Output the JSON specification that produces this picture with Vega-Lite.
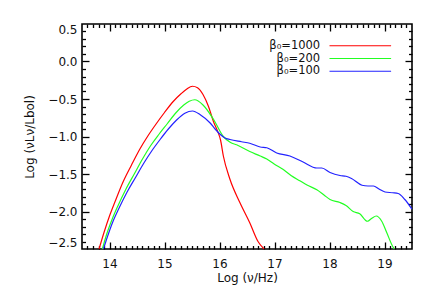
{
  "$schema": "https://vega.github.io/schema/vega-lite/v6.json",
  "autosize": {"type": "none"},
  "padding": {"left": 82, "top": 24, "right": 24, "bottom": 51},
  "width": 330,
  "height": 225,
  "background": "white",
  "config": {
    "view": {"stroke": "#000", "strokeWidth": 1.6},
    "font": "DejaVu Sans",
    "axis": {"labelFont": "DejaVu Sans", "titleFont": "DejaVu Sans", "labelColor": "#111", "titleColor": "#111", "labelFontSize": 12, "titleFontSize": 12, "titleFontWeight": "normal", "grid": false, "domain": false, "tickColor": "#000", "tickWidth": 1.3}
  },
  "datasets": {
    "curves": [
      {"model": "1000", "lognu": 13.81, "lognl": -2.5},
      {"model": "1000", "lognu": 13.9, "lognl": -2.28},
      {"model": "1000", "lognu": 14.0, "lognl": -2.06},
      {"model": "1000", "lognu": 14.1, "lognl": -1.87},
      {"model": "1000", "lognu": 14.25, "lognl": -1.6},
      {"model": "1000", "lognu": 14.4, "lognl": -1.38},
      {"model": "1000", "lognu": 14.55, "lognl": -1.17},
      {"model": "1000", "lognu": 14.7, "lognl": -0.99},
      {"model": "1000", "lognu": 14.85, "lognl": -0.83},
      {"model": "1000", "lognu": 15.0, "lognl": -0.68},
      {"model": "1000", "lognu": 15.15, "lognl": -0.54},
      {"model": "1000", "lognu": 15.3, "lognl": -0.43},
      {"model": "1000", "lognu": 15.4, "lognl": -0.37},
      {"model": "1000", "lognu": 15.51, "lognl": -0.33},
      {"model": "1000", "lognu": 15.6, "lognl": -0.35},
      {"model": "1000", "lognu": 15.7, "lognl": -0.44},
      {"model": "1000", "lognu": 15.8, "lognl": -0.6},
      {"model": "1000", "lognu": 15.89, "lognl": -0.8},
      {"model": "1000", "lognu": 15.96, "lognl": -0.92},
      {"model": "1000", "lognu": 16.02, "lognl": -1.05},
      {"model": "1000", "lognu": 16.07, "lognl": -1.26},
      {"model": "1000", "lognu": 16.19, "lognl": -1.57},
      {"model": "1000", "lognu": 16.37, "lognl": -1.88},
      {"model": "1000", "lognu": 16.55, "lognl": -2.15},
      {"model": "1000", "lognu": 16.7, "lognl": -2.4},
      {"model": "1000", "lognu": 16.81, "lognl": -2.5},
      {"model": "200", "lognu": 13.87, "lognl": -2.5},
      {"model": "200", "lognu": 13.95, "lognl": -2.3},
      {"model": "200", "lognu": 14.05, "lognl": -2.1},
      {"model": "200", "lognu": 14.15, "lognl": -1.93},
      {"model": "200", "lognu": 14.3, "lognl": -1.7},
      {"model": "200", "lognu": 14.45, "lognl": -1.5},
      {"model": "200", "lognu": 14.6, "lognl": -1.3},
      {"model": "200", "lognu": 14.75, "lognl": -1.12},
      {"model": "200", "lognu": 14.9, "lognl": -0.97},
      {"model": "200", "lognu": 15.05, "lognl": -0.83},
      {"model": "200", "lognu": 15.2, "lognl": -0.69},
      {"model": "200", "lognu": 15.35, "lognl": -0.58},
      {"model": "200", "lognu": 15.45, "lognl": -0.53},
      {"model": "200", "lognu": 15.55, "lognl": -0.51},
      {"model": "200", "lognu": 15.7, "lognl": -0.58},
      {"model": "200", "lognu": 15.89, "lognl": -0.77},
      {"model": "200", "lognu": 16.07, "lognl": -1.0},
      {"model": "200", "lognu": 16.2, "lognl": -1.08},
      {"model": "200", "lognu": 16.31, "lognl": -1.11},
      {"model": "200", "lognu": 16.55, "lognl": -1.2},
      {"model": "200", "lognu": 16.74, "lognl": -1.26},
      {"model": "200", "lognu": 16.86, "lognl": -1.3},
      {"model": "200", "lognu": 17.0, "lognl": -1.37},
      {"model": "200", "lognu": 17.16, "lognl": -1.44},
      {"model": "200", "lognu": 17.3, "lognl": -1.52},
      {"model": "200", "lognu": 17.46, "lognl": -1.59},
      {"model": "200", "lognu": 17.6, "lognl": -1.65},
      {"model": "200", "lognu": 17.77, "lognl": -1.71},
      {"model": "200", "lognu": 17.9, "lognl": -1.78},
      {"model": "200", "lognu": 18.01, "lognl": -1.84},
      {"model": "200", "lognu": 18.19, "lognl": -1.88},
      {"model": "200", "lognu": 18.3, "lognl": -1.92},
      {"model": "200", "lognu": 18.43, "lognl": -2.0},
      {"model": "200", "lognu": 18.55, "lognl": -2.03},
      {"model": "200", "lognu": 18.69, "lognl": -2.13},
      {"model": "200", "lognu": 18.77, "lognl": -2.09},
      {"model": "200", "lognu": 18.85, "lognl": -2.06},
      {"model": "200", "lognu": 18.95, "lognl": -2.13},
      {"model": "200", "lognu": 19.04, "lognl": -2.28},
      {"model": "200", "lognu": 19.16, "lognl": -2.48},
      {"model": "200", "lognu": 19.18, "lognl": -2.5},
      {"model": "100", "lognu": 13.89, "lognl": -2.5},
      {"model": "100", "lognu": 13.97, "lognl": -2.32},
      {"model": "100", "lognu": 14.07, "lognl": -2.12},
      {"model": "100", "lognu": 14.17, "lognl": -1.96},
      {"model": "100", "lognu": 14.32, "lognl": -1.74},
      {"model": "100", "lognu": 14.47, "lognl": -1.55},
      {"model": "100", "lognu": 14.62, "lognl": -1.36},
      {"model": "100", "lognu": 14.77, "lognl": -1.19},
      {"model": "100", "lognu": 14.92, "lognl": -1.04},
      {"model": "100", "lognu": 15.07, "lognl": -0.9},
      {"model": "100", "lognu": 15.22, "lognl": -0.78},
      {"model": "100", "lognu": 15.37, "lognl": -0.69},
      {"model": "100", "lognu": 15.51, "lognl": -0.66},
      {"model": "100", "lognu": 15.65, "lognl": -0.71},
      {"model": "100", "lognu": 15.83, "lognl": -0.82},
      {"model": "100", "lognu": 15.92, "lognl": -0.9},
      {"model": "100", "lognu": 16.01, "lognl": -0.97},
      {"model": "100", "lognu": 16.1, "lognl": -1.02},
      {"model": "100", "lognu": 16.19, "lognl": -1.04},
      {"model": "100", "lognu": 16.4, "lognl": -1.07},
      {"model": "100", "lognu": 16.55, "lognl": -1.09},
      {"model": "100", "lognu": 16.74, "lognl": -1.14},
      {"model": "100", "lognu": 16.86, "lognl": -1.15},
      {"model": "100", "lognu": 17.04, "lognl": -1.22},
      {"model": "100", "lognu": 17.28, "lognl": -1.26},
      {"model": "100", "lognu": 17.52, "lognl": -1.34},
      {"model": "100", "lognu": 17.77, "lognl": -1.42},
      {"model": "100", "lognu": 17.86, "lognl": -1.42},
      {"model": "100", "lognu": 18.01, "lognl": -1.48},
      {"model": "100", "lognu": 18.19, "lognl": -1.52},
      {"model": "100", "lognu": 18.3, "lognl": -1.53},
      {"model": "100", "lognu": 18.4, "lognl": -1.56},
      {"model": "100", "lognu": 18.59, "lognl": -1.65},
      {"model": "100", "lognu": 18.7, "lognl": -1.66},
      {"model": "100", "lognu": 18.8, "lognl": -1.66},
      {"model": "100", "lognu": 18.9, "lognl": -1.7},
      {"model": "100", "lognu": 19.01, "lognl": -1.74},
      {"model": "100", "lognu": 19.15, "lognl": -1.75},
      {"model": "100", "lognu": 19.25, "lognl": -1.76},
      {"model": "100", "lognu": 19.37, "lognl": -1.84},
      {"model": "100", "lognu": 19.5, "lognl": -1.97}
    ],
    "legend": [
      {"model": "1000", "label": "β₀=1000", "tx": 17.83, "x1": 18.0, "x2": 19.12, "ly": 0.21},
      {"model": "200", "label": "β₀=200", "tx": 17.83, "x1": 18.0, "x2": 19.12, "ly": 0.04},
      {"model": "100", "label": "β₀=100", "tx": 17.83, "x1": 18.0, "x2": 19.12, "ly": -0.13}
    ]
  },
  "resolve": {"axis": {"x": "independent", "y": "independent"}},
  "layer": [
    {
      "data": {"name": "curves"},
      "mark": {"type": "line", "strokeWidth": 1.2, "interpolate": "monotone", "clip": true},
      "encoding": {
        "x": {"field": "lognu", "type": "quantitative", "scale": {"domain": [13.5, 19.5], "nice": false, "zero": false},
              "axis": {"orient": "bottom", "values": [14, 15, 16, 17, 18, 19], "ticks": false, "labelPadding": 9, "labelFlush": false, "labelOverlap": false, "title": "Log (ν/Hz)", "titlePadding": 3}},
        "y": {"field": "lognl", "type": "quantitative", "scale": {"domain": [-2.5, 0.5], "nice": false, "zero": false},
              "axis": {"orient": "left", "values": [-2.5, -2, -1.5, -1, -0.5, 0, 0.5], "format": ".1f", "ticks": false, "labelPadding": 5, "labelFlush": true, "labelOverlap": false, "title": "Log (νLν/Lbol)", "titlePadding": 11}},
        "color": {"field": "model", "type": "nominal", "scale": {"domain": ["1000", "200", "100"], "range": ["#ff0000", "#22ff22", "#2222ff"]}, "legend": null},
        "detail": {"field": "model"}
      }
    },
    {
      "data": {"name": "legend"},
      "mark": {"type": "rule", "strokeWidth": 1.2},
      "encoding": {
        "x": {"field": "x1", "type": "quantitative", "scale": {"domain": [13.5, 19.5], "nice": false, "zero": false},
              "axis": {"orient": "bottom", "values": [13.6,13.7,13.8,13.9,14,14.1,14.2,14.3,14.4,14.5,14.6,14.7,14.8,14.9,15,15.1,15.2,15.3,15.4,15.5,15.6,15.7,15.8,15.9,16,16.1,16.2,16.3,16.4,16.5,16.6,16.7,16.8,16.9,17,17.1,17.2,17.3,17.4,17.5,17.6,17.7,17.8,17.9,18,18.1,18.2,18.3,18.4,18.5,18.6,18.7,18.8,18.9,19,19.1,19.2,19.3,19.4],
                       "labels": false, "title": null, "tickSize": {"condition": {"test": "datum.value % 1 === 0", "value": -7}, "value": -3.5}}},
        "x2": {"field": "x2"},
        "y": {"field": "ly", "type": "quantitative", "scale": {"domain": [-2.5, 0.5], "nice": false, "zero": false},
              "axis": {"orient": "left", "values": [-2.4,-2.3,-2.2,-2.1,-2,-1.9,-1.8,-1.7,-1.6,-1.5,-1.4,-1.3,-1.2,-1.1,-1,-0.9,-0.8,-0.7,-0.6,-0.5,-0.4,-0.3,-0.2,-0.1,0,0.1,0.2,0.3,0.4],
                       "labels": false, "title": null, "tickSize": {"condition": {"test": "abs(datum.value * 2 - round(datum.value * 2)) < 0.001", "value": -7}, "value": -3.5}}},
        "color": {"field": "model", "type": "nominal", "scale": {"domain": ["1000", "200", "100"], "range": ["#ff0000", "#22ff22", "#2222ff"]}, "legend": null}
      }
    },
    {
      "data": {"name": "legend"},
      "mark": {"type": "text", "align": "right", "baseline": "middle", "fontSize": 11.5, "font": "DejaVu Sans", "color": "#111"},
      "encoding": {
        "x": {"field": "tx", "type": "quantitative", "scale": {"domain": [13.5, 19.5], "nice": false, "zero": false},
              "axis": {"orient": "top", "values": [13.6,13.7,13.8,13.9,14,14.1,14.2,14.3,14.4,14.5,14.6,14.7,14.8,14.9,15,15.1,15.2,15.3,15.4,15.5,15.6,15.7,15.8,15.9,16,16.1,16.2,16.3,16.4,16.5,16.6,16.7,16.8,16.9,17,17.1,17.2,17.3,17.4,17.5,17.6,17.7,17.8,17.9,18,18.1,18.2,18.3,18.4,18.5,18.6,18.7,18.8,18.9,19,19.1,19.2,19.3,19.4],
                       "labels": false, "title": null, "tickSize": {"condition": {"test": "datum.value % 1 === 0", "value": -7}, "value": -3.5}}},
        "y": {"field": "ly", "type": "quantitative", "scale": {"domain": [-2.5, 0.5], "nice": false, "zero": false},
              "axis": {"orient": "right", "values": [-2.4,-2.3,-2.2,-2.1,-2,-1.9,-1.8,-1.7,-1.6,-1.5,-1.4,-1.3,-1.2,-1.1,-1,-0.9,-0.8,-0.7,-0.6,-0.5,-0.4,-0.3,-0.2,-0.1,0,0.1,0.2,0.3,0.4],
                       "labels": false, "title": null, "tickSize": {"condition": {"test": "abs(datum.value * 2 - round(datum.value * 2)) < 0.001", "value": -7}, "value": -3.5}}},
        "text": {"field": "label"}
      }
    }
  ]
}
